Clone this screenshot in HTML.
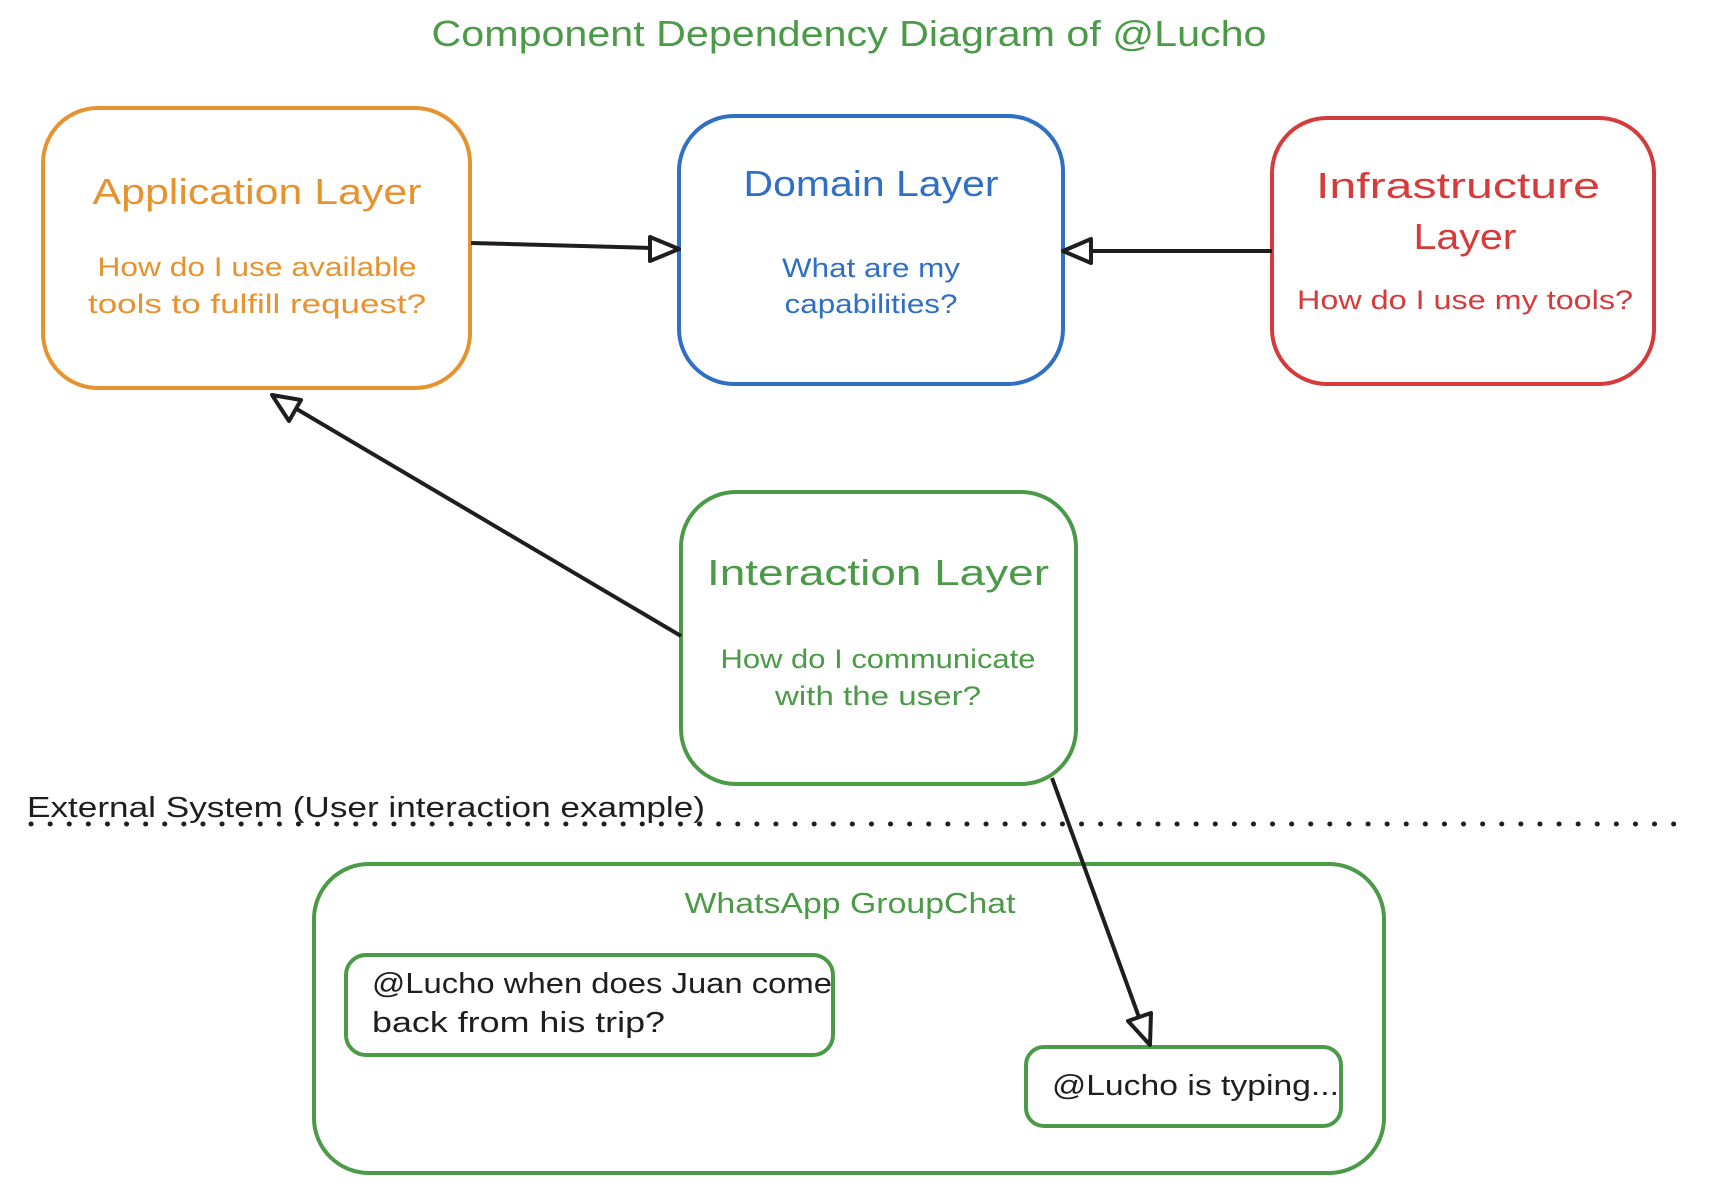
<!DOCTYPE html>
<html><head><meta charset="utf-8"><style>
html,body{margin:0;padding:0;background:#fff}
svg{display:block}
text{font-family:"Liberation Sans",sans-serif}
</style></head><body>
<svg width="1710" height="1194" viewBox="0 0 1710 1194" xmlns="http://www.w3.org/2000/svg">
<rect width="1710" height="1194" fill="#fff"/>
<text x="849" y="46" text-anchor="middle" font-size="36" fill="#4a9a47" textLength="835" lengthAdjust="spacingAndGlyphs">Component Dependency Diagram of @Lucho</text>

<!-- boxes -->
<rect x="43" y="108" width="427" height="280" rx="55" fill="none" stroke="#e6922f" stroke-width="4"/>
<rect x="679" y="116" width="384" height="268" rx="55" fill="none" stroke="#2f6fc4" stroke-width="4"/>
<rect x="1272" y="118" width="382" height="266" rx="55" fill="none" stroke="#d63a3a" stroke-width="4"/>
<rect x="681" y="492" width="395" height="292" rx="55" fill="none" stroke="#4a9a47" stroke-width="4"/>
<rect x="314" y="864" width="1070" height="309" rx="55" fill="none" stroke="#4a9a47" stroke-width="4"/>
<rect x="346" y="955" width="487" height="100" rx="20" fill="none" stroke="#4a9a47" stroke-width="4"/>
<rect x="1026" y="1047" width="315" height="79" rx="18" fill="none" stroke="#4a9a47" stroke-width="4"/>

<!-- texts -->
<g fill="#e6922f" text-anchor="middle">
<text x="257" y="204" font-size="36" textLength="329" lengthAdjust="spacingAndGlyphs">Application Layer</text>
<text x="257" y="276" font-size="27" textLength="319" lengthAdjust="spacingAndGlyphs">How do I use available</text>
<text x="257" y="313" font-size="27" textLength="338" lengthAdjust="spacingAndGlyphs">tools to fulfill request?</text>
</g>
<g fill="#2f6fc4" text-anchor="middle">
<text x="871" y="196" font-size="36" textLength="255" lengthAdjust="spacingAndGlyphs">Domain Layer</text>
<text x="871" y="277" font-size="27" textLength="178" lengthAdjust="spacingAndGlyphs">What are my</text>
<text x="871" y="313" font-size="27" textLength="173" lengthAdjust="spacingAndGlyphs">capabilities?</text>
</g>
<g fill="#d63a3a" text-anchor="middle">
<text x="1458" y="198" font-size="36" textLength="284" lengthAdjust="spacingAndGlyphs">Infrastructure</text>
<text x="1465" y="249" font-size="36" textLength="103" lengthAdjust="spacingAndGlyphs">Layer</text>
<text x="1465" y="309" font-size="27" textLength="336" lengthAdjust="spacingAndGlyphs">How do I use my tools?</text>
</g>
<g fill="#4a9a47" text-anchor="middle">
<text x="878" y="585" font-size="36" textLength="342" lengthAdjust="spacingAndGlyphs">Interaction Layer</text>
<text x="878" y="668" font-size="27" textLength="315" lengthAdjust="spacingAndGlyphs">How do I communicate</text>
<text x="878" y="705" font-size="27" textLength="206" lengthAdjust="spacingAndGlyphs">with the user?</text>
<text x="850" y="913" font-size="29" textLength="331" lengthAdjust="spacingAndGlyphs">WhatsApp GroupChat</text>
</g>
<text x="27" y="817" font-size="29" fill="#1e1e1e" textLength="678" lengthAdjust="spacingAndGlyphs">External System (User interaction example)</text>
<text x="372" y="993" font-size="29" fill="#1e1e1e" textLength="460" lengthAdjust="spacingAndGlyphs">@Lucho when does Juan come</text>
<text x="372" y="1032" font-size="29" fill="#1e1e1e" textLength="293" lengthAdjust="spacingAndGlyphs">back from his trip?</text>
<text x="1052" y="1095" font-size="29" fill="#1e1e1e" textLength="287" lengthAdjust="spacingAndGlyphs">@Lucho is typing...</text>

<!-- dotted line -->
<line x1="31" y1="824" x2="1674" y2="824" stroke="#1e1e1e" stroke-width="5" stroke-dasharray="0.1 19" stroke-linecap="round"/>

<!-- arrows -->
<g stroke="#1e1e1e" stroke-width="4" fill="#fff" stroke-linejoin="round">
<line x1="471" y1="243" x2="652" y2="248"/>
<polygon points="679,249 650,237 650,261"/>
<line x1="1272" y1="251" x2="1091" y2="251"/>
<polygon points="1063,251 1091,239 1091,263"/>
<line x1="681" y1="636" x2="295" y2="408"/>
<polygon points="272,395 289,421 301,400"/>
<line x1="1052" y1="778" x2="1140" y2="1020"/>
<polygon points="1150,1045 1151,1013 1128,1021"/>
</g>
</svg>
</body></html>
